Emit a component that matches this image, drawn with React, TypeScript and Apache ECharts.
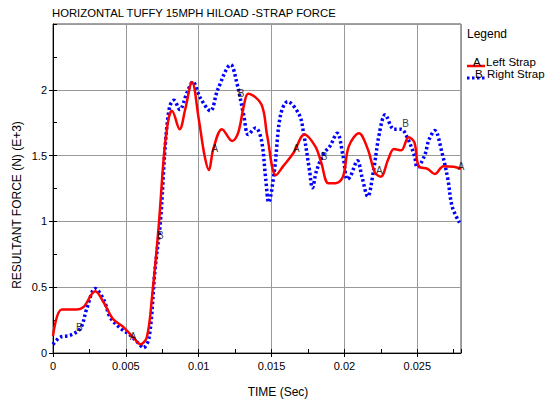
import React, { useEffect, useRef } from "react";
import * as echarts from "echarts";

const timeA = [0, 0.0006, 0.0016, 0.0021, 0.0029, 0.0035, 0.0041, 0.0048, 0.0055, 0.006, 0.00644, 0.0068, 0.00725, 0.00763, 0.00793, 0.00816, 0.00869, 0.00907, 0.00954, 0.01, 0.0104, 0.0107, 0.011, 0.0116, 0.0123, 0.0127, 0.0131, 0.0134, 0.0143, 0.0147, 0.0153, 0.0158, 0.0165, 0.01726, 0.018, 0.0184, 0.0189, 0.0194, 0.0199, 0.0203, 0.021, 0.0216, 0.0221, 0.0225, 0.023, 0.0234, 0.0239, 0.0244, 0.0248, 0.0251, 0.0257, 0.0262, 0.0268, 0.0275, 0.028];
const forceA = [0.13, 0.33, 0.33, 0.35, 0.47, 0.38, 0.26, 0.2, 0.12, 0.066, 0.12, 0.43, 0.96, 1.52, 1.78, 1.84, 1.7, 1.85, 2.06, 1.78, 1.5, 1.39, 1.55, 1.7, 1.61, 1.67, 1.88, 1.97, 1.89, 1.65, 1.35, 1.42, 1.52, 1.66, 1.57, 1.45, 1.29, 1.29, 1.34, 1.57, 1.67, 1.55, 1.37, 1.34, 1.47, 1.55, 1.54, 1.64, 1.6, 1.42, 1.4, 1.36, 1.42, 1.415, 1.4];

const timeB = [0, 0.0005, 0.0012, 0.0019, 0.0023, 0.0029, 0.0035, 0.0039, 0.0046, 0.0053, 0.0059, 0.0062, 0.0066, 0.007, 0.00738, 0.0077, 0.008, 0.0083, 0.0087, 0.0092, 0.0096, 0.0101, 0.0108, 0.0113, 0.0122, 0.0126, 0.0131, 0.0134, 0.0139, 0.0143, 0.0146, 0.0148, 0.0152, 0.0156, 0.0161, 0.0169, 0.0172, 0.0176, 0.0178, 0.0181, 0.0186, 0.019, 0.0195, 0.0199, 0.0202, 0.0204, 0.0209, 0.0212, 0.0216, 0.022, 0.0224, 0.0228, 0.0234, 0.0239, 0.0243, 0.0248, 0.025, 0.0255, 0.0258, 0.0262, 0.0267, 0.0271, 0.0274, 0.0279];
const forceB = [0.066, 0.12, 0.135, 0.19, 0.33, 0.49, 0.4, 0.275, 0.19, 0.135, 0.07, 0.04, 0.12, 0.63, 1.01, 1.57, 1.87, 1.92, 1.85, 1.98, 2.06, 1.94, 1.84, 2.0, 2.19, 2.06, 1.8, 1.66, 1.71, 1.62, 1.32, 1.145, 1.39, 1.8, 1.91, 1.81, 1.67, 1.39, 1.255, 1.39, 1.52, 1.57, 1.67, 1.5, 1.32, 1.34, 1.46, 1.34, 1.19, 1.39, 1.67, 1.81, 1.7, 1.7, 1.64, 1.5, 1.41, 1.5, 1.62, 1.69, 1.52, 1.32, 1.11, 0.99];

const labelTimeA = [0.0055, 0.0111, 0.0167, 0.0224, 0.028];
const labelForceA = [0.127, 1.555, 1.555, 1.39, 1.42];
const labelTimeB = [0.0018, 0.00736, 0.0129, 0.0186, 0.0242];
const labelForceB = [0.196, 0.89, 1.97, 1.49, 1.745];

const seriesNames = ["Left Strap", "Right Strap"];
const seriesLetters = ["A", "B"];

const FONT = "Liberation Sans, Arial, sans-serif";

export default function App() {
  const ref = useRef<HTMLDivElement>(null);
  useEffect(() => {
    if (!ref.current) return;
    const chart = echarts.init(ref.current, undefined, { renderer: "svg" });
    const pairs = (t: number[], v: number[]) => t.map((x, i) => [x, v[i]]);
    const labelStyle = {
      show: true,
      position: "inside" as const,
      color: "#000",
      fontSize: 10,
      fontFamily: FONT,
    };
    const txt = (text: string, left: number, cy: number, size = 12) => ({
      type: "text",
      x: left,
      y: cy,
      style: { text, fontSize: size, lineHeight: size, fontFamily: FONT, fill: "#000", verticalAlign: "middle" },
    });
    chart.setOption({
      animation: false,
      backgroundColor: "#fff",
      title: {
        text: "HORIZONTAL TUFFY 15MPH HILOAD -STRAP FORCE",
        left: 52,
        top: 7,
        padding: 0,
        textStyle: { fontSize: 11.3, fontWeight: "normal", color: "#000", fontFamily: FONT },
      },
      grid: {
        left: 53,
        right: 87,
        top: 24,
        bottom: 47,
        show: true,
        borderColor: "#444",
        borderWidth: 1,
        backgroundColor: "transparent",
      },
      xAxis: [
        {
          type: "value",
          min: 0,
          max: 0.028,
          interval: 0.005,
          axisLine: { show: true, onZero: false, lineStyle: { color: "#000", width: 1 } },
          axisTick: { show: true, length: 4, lineStyle: { color: "#000" } },
          axisLabel: {
            showMaxLabel: false,
            color: "#000",
            fontSize: 11,
            fontFamily: FONT,
            margin: 7,
            formatter: (v: number) => String(Number(v.toFixed(4))),
          },
          splitLine: { show: true, lineStyle: { color: "#999", width: 1 } },
        },
        {
          type: "value",
          position: "bottom",
          min: 0,
          max: 0.028,
          interval: 0.0025,
          axisLine: { show: false },
          axisTick: { show: true, inside: true, length: 4, lineStyle: { color: "#000" } },
          axisLabel: { show: false },
          splitLine: { show: false },
        },
      ],
      yAxis: [
        {
          type: "value",
          min: 0,
          max: 2.5,
          interval: 0.5,
          axisLine: { show: true, onZero: false, lineStyle: { color: "#000", width: 1 } },
          axisTick: { show: true, length: 4, lineStyle: { color: "#000" } },
          axisLabel: {
            showMaxLabel: false,
            color: "#000",
            fontSize: 11,
            fontFamily: FONT,
            margin: 6,
          },
          splitLine: { show: true, lineStyle: { color: "#999", width: 1 } },
        },
        {
          type: "value",
          position: "left",
          min: 0,
          max: 2.5,
          interval: 0.25,
          axisLine: { show: false },
          axisTick: { show: true, inside: true, length: 4, lineStyle: { color: "#000" } },
          axisLabel: { show: false },
          splitLine: { show: false },
        },
      ],
      series: [
        {
          name: seriesNames[0],
          type: "line",
          data: pairs(timeA, forceA),
          smooth: 0.35,
          symbol: "none",
          lineStyle: { color: "#ff0000", width: 2.5 },
          z: 3,
        },
        {
          name: seriesNames[1],
          type: "line",
          data: pairs(timeB, forceB),
          smooth: 0.35,
          symbol: "none",
          lineStyle: { color: "#0000ff", width: 3.5, type: [2.5, 2.5] },
          z: 2,
        },
        {
          type: "scatter",
          data: pairs(labelTimeA, labelForceA),
          symbol: "circle",
          symbolSize: 1,
          itemStyle: { color: "transparent" },
          label: { ...labelStyle, formatter: seriesLetters[0] },
          z: 5,
        },
        {
          type: "scatter",
          data: pairs(labelTimeB, labelForceB),
          symbol: "circle",
          symbolSize: 1,
          itemStyle: { color: "transparent" },
          label: { ...labelStyle, formatter: seriesLetters[1] },
          z: 5,
        },
      ],
      graphic: [
        txt("Legend", 467, 34),
        {
          type: "line",
          shape: { x1: 467, y1: 66, x2: 485, y2: 66 },
          style: { stroke: "#ff0000", lineWidth: 2.5 },
        },
        txt(seriesLetters[0], 473, 61.5, 11.5),
        txt(seriesNames[0], 486, 61.5, 11.5),
        {
          type: "line",
          shape: { x1: 467, y1: 78, x2: 485, y2: 78 },
          style: { stroke: "#0000ff", lineWidth: 3, lineDash: [2.5, 2.5] },
        },
        txt(seriesLetters[1], 475, 74, 11.5),
        txt(seriesNames[1], 487, 74, 11.5),
        {
          type: "text",
          x: 17,
          y: 205,
          rotation: Math.PI / 2,
          style: {
            text: "RESULTANT FORCE (N) (E+3)",
            fontSize: 12,
            fontFamily: FONT,
            fill: "#000",
            align: "center",
            verticalAlign: "middle",
          },
        },
        {
          type: "text",
          x: 278,
          y: 392,
          style: {
            text: "TIME (Sec)",
            fontSize: 12,
            fontFamily: FONT,
            fill: "#000",
            align: "center",
            verticalAlign: "middle",
          },
        },
      ],
    });
    return () => chart.dispose();
  }, []);
  return <div ref={ref} style={{ width: 548, height: 400, position: "absolute", left: 0, top: 0 }} />;
}
